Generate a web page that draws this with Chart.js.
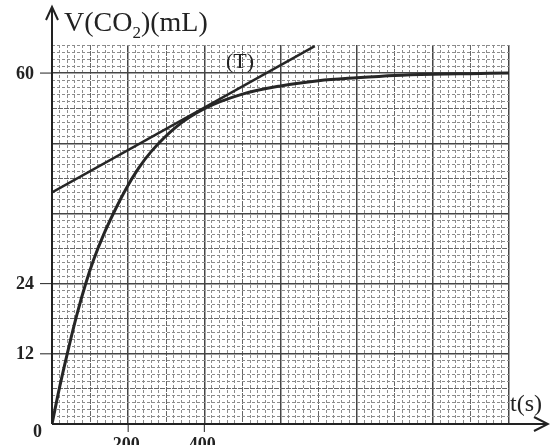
<!DOCTYPE html>
<html>
<head>
<meta charset="utf-8">
<script src="https://cdn.jsdelivr.net/npm/chart.js@4.4.1/dist/chart.umd.min.js"></script>
<style>
  html, body { margin: 0; padding: 0; background: #ffffff; overflow: hidden; }
  #wrap { width: 550px; height: 445px; }
</style>
</head>
<body>
<div id="wrap"><canvas id="co2Chart" width="550" height="445"></canvas></div>
<script>
// Curve V(CO2) = f(t)
const timeValues = [0, 20, 40, 65, 88, 110, 135, 165, 196, 227, 262, 328, 400, 500, 600, 700, 800, 900, 1000, 1100, 1200];
const volumeValues = [0, 6.3, 12, 18.6, 23.9, 28.2, 32.3, 36.5, 40.4, 43.7, 46.7, 50.9, 53.9, 56.4, 57.8, 58.7, 59.2, 59.6, 59.8, 59.9, 60];

// Tangent (T) at t = 400 s
const tangentTime = [0, 690];
const tangentVolume = [39.6, 64.6];

// Labelled ticks
const xTickLabels = [200, 400];
const yTickLabels = [12, 24, 60];

const X_MAX = 1200;
const Y_MAX = 64.8;
const X_MINOR = 20;   // 10 small squares per 200 s
const Y_MINOR = 1.2;  // 10 small squares per 12 mL

function gridLevel(ctx, step) {
  if (!ctx.tick) return 0;
  const k = Math.round(ctx.tick.value / step);
  if (k % 10 === 0) return 2;
  if (k % 5 === 0) return 1;
  return 0;
}
function gridColor(step) {
  return (ctx) => ["#8c8c8c", "#666666", "#454545"][gridLevel(ctx, step)];
}
function gridWidth(step) {
  return (ctx) => [1, 1, 1.5][gridLevel(ctx, step)];
}
function gridDash(step) {
  return (ctx) => [[3, 2], [5, 1], []][gridLevel(ctx, step)];
}

// Axes with arrows, tick labels and titles
const paperPlugin = {
  id: "paperPlugin",
  afterDraw(chart) {
    const { ctx, scales } = chart;
    const x = scales.x, y = scales.y;
    const x0 = x.getPixelForValue(0), y0 = y.getPixelForValue(0);
    ctx.save();
    ctx.strokeStyle = "#222";
    ctx.fillStyle = "#222";
    ctx.lineWidth = 2;
    // y axis
    ctx.beginPath();
    ctx.moveTo(x0, y0);
    ctx.lineTo(x0, 8);
    ctx.stroke();
    ctx.beginPath();
    ctx.moveTo(x0 - 6, 20);
    ctx.lineTo(x0, 7);
    ctx.lineTo(x0 + 6, 20);
    ctx.stroke();
    // x axis
    ctx.beginPath();
    ctx.moveTo(x0, y0);
    ctx.lineTo(547, y0);
    ctx.stroke();
    ctx.beginPath();
    ctx.moveTo(534, y0 - 7);
    ctx.lineTo(548, y0);
    ctx.lineTo(534, y0 + 7);
    ctx.stroke();

    // tick marks + labels
    ctx.lineWidth = 1;
    ctx.font = "bold 18px 'Liberation Serif', serif";
    ctx.textAlign = "right";
    ctx.textBaseline = "middle";
    yTickLabels.forEach((v) => {
      const py = y.getPixelForValue(v);
      ctx.beginPath();
      ctx.moveTo(x0 - 12, py);
      ctx.lineTo(x0, py);
      ctx.stroke();
      ctx.fillText(String(v), x0 - 18, py + 1);
    });
    ctx.fillText("0", 42, y0 + 8);
    ctx.textAlign = "center";
    ctx.textBaseline = "top";
    xTickLabels.forEach((v) => {
      const px = x.getPixelForValue(v);
      ctx.beginPath();
      ctx.moveTo(px, y0);
      ctx.lineTo(px, y0 + 8);
      ctx.stroke();
      ctx.fillText(String(v), px - 2, y0 + 12);
    });

    // axis titles
    ctx.font = "28px 'Liberation Serif', serif";
    ctx.textAlign = "left";
    ctx.textBaseline = "alphabetic";
    let tx = 64;
    const base = 31;
    ctx.fillText("V(CO", tx, base);
    tx += ctx.measureText("V(CO").width;
    ctx.font = "17px 'Liberation Serif', serif";
    ctx.fillText("2", tx, base + 7);
    tx += ctx.measureText("2").width;
    ctx.font = "28px 'Liberation Serif', serif";
    ctx.fillText(")(mL)", tx, base);

    ctx.font = "24px 'Liberation Serif', serif";
    ctx.fillText("t(s)", 510, 411);

    ctx.font = "22px 'Liberation Serif', serif";
    ctx.textAlign = "center";
    ctx.fillText("(T)", 240, 68);
    ctx.restore();
  },
};

document.addEventListener("DOMContentLoaded", function () {
  const canvas = document.getElementById("co2Chart");
  new Chart(canvas, {
    type: "line",
    data: {
      datasets: [
        {
          label: "V(CO2)",
          data: timeValues.map((t, i) => ({ x: t, y: volumeValues[i] })),
          borderColor: "#262626",
          borderWidth: 3,
          pointRadius: 0,
          fill: false,
          cubicInterpolationMode: "monotone",
        },
        {
          label: "(T)",
          data: tangentTime.map((t, i) => ({ x: t, y: tangentVolume[i] })),
          borderColor: "#262626",
          borderWidth: 2.4,
          pointRadius: 0,
          fill: false,
        },
      ],
    },
    options: {
      responsive: false,
      animation: false,
      devicePixelRatio: 1,
      layout: { padding: { left: 52, right: 41, top: 45, bottom: 21 } },
      plugins: {
        legend: { display: false },
        tooltip: { enabled: false },
      },
      scales: {
        x: {
          type: "linear",
          min: 0,
          max: X_MAX,
          ticks: { display: false, stepSize: X_MINOR, autoSkip: false },
          grid: { color: gridColor(X_MINOR), lineWidth: gridWidth(X_MINOR), drawTicks: false },
          border: { display: false, dash: gridDash(X_MINOR) },
        },
        y: {
          type: "linear",
          min: 0,
          max: Y_MAX,
          ticks: { display: false, stepSize: Y_MINOR, autoSkip: false },
          grid: { color: gridColor(Y_MINOR), lineWidth: gridWidth(Y_MINOR), drawTicks: false },
          border: { display: false, dash: gridDash(Y_MINOR) },
        },
      },
    },
    plugins: [paperPlugin],
  });
});
</script>
</body>
</html>
